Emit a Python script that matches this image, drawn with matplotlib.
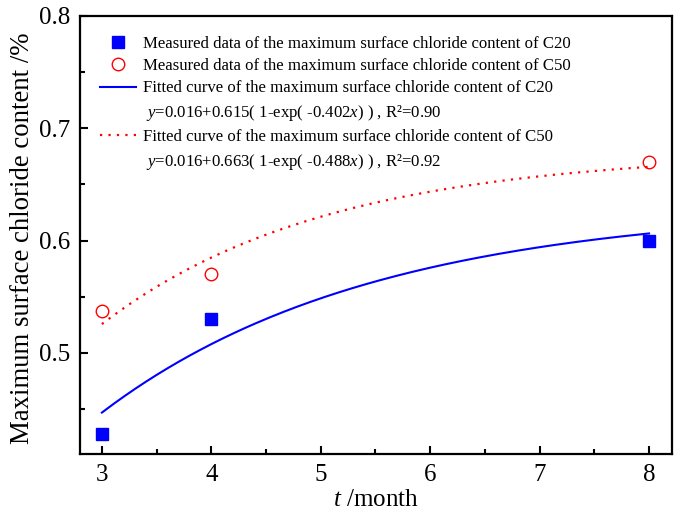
import numpy as np
import matplotlib
matplotlib.use('Agg')
import matplotlib.pyplot as plt
from matplotlib.ticker import MultipleLocator

plt.rcParams['font.family'] = ['Liberation Serif', 'DejaVu Serif']
plt.rcParams['mathtext.fontset'] = 'custom'
plt.rcParams['mathtext.rm'] = 'Liberation Serif'
plt.rcParams['mathtext.it'] = 'Liberation Serif:italic'

# measured surface chloride content (%)
months = [3, 4, 8]
c20_measured = [0.428, 0.530, 0.600]
c50_measured = [0.537, 0.570, 0.670]

# fit y = a + b(1 - exp(-k x))
c20_fit = (0.016, 0.615, 0.402, 0.90)
c50_fit = (0.016, 0.663, 0.488, 0.92)


def fitted(params, x):
    a, b, k, _ = params
    return a + b * (1 - np.exp(-k * x))


def eq_label(params):
    a, b, k, r2 = params
    return (f'$y$={a:.3f}+{b:.3f}( 1-exp( -{k:.3f}$x$) ) , R\u00b2={r2:.2f}')


fig = plt.figure(figsize=(6.81, 5.13), dpi=100)
ax = fig.add_axes([0.1175, 0.115, 0.8693, 0.854])

t = np.linspace(3, 8, 200)

ax.plot(months, c20_measured, 's', color='#0000ff', ms=8, ls='none',
        label='Measured data of the maximum surface chloride content of C20')
ax.plot(months, c50_measured, 'o', mfc='none', mec='#ff0000', mew=1.0, ms=9, ls='none',
        label='Measured data of the maximum surface chloride content of C50')
ax.plot(t, fitted(c20_fit, t), color='#0000ff', lw=1.5,
        label='Fitted curve of the maximum surface chloride content of C20')
ax.plot([], [], ls='none', label=' ' + eq_label(c20_fit))
ax.plot(t, fitted(c50_fit, t), color='#ff0000', lw=1.6, ls=(0, (1, 2.8)),
        label='Fitted curve of the maximum surface chloride content of C50')
ax.plot([], [], ls='none', label=' ' + eq_label(c50_fit))

ax.set_xlim(2.8, 8.21)
ax.set_ylim(0.41, 0.8)
ax.xaxis.set_major_locator(MultipleLocator(1))
ax.xaxis.set_minor_locator(MultipleLocator(0.5))
ax.yaxis.set_major_locator(MultipleLocator(0.1))
ax.yaxis.set_minor_locator(MultipleLocator(0.05))
ax.tick_params(which='both', direction='in', top=False, right=False,
               labelsize=18, width=1.5)
ax.tick_params(which='major', length=6, pad=7)
ax.tick_params(which='minor', length=3.5)
for s in ax.spines.values():
    s.set_linewidth(1.6)

ax.set_xlabel('$t$ /month', fontsize=18, labelpad=2)
ax.set_ylabel('Maximum surface chloride content /%', fontsize=19.3)
ax.yaxis.set_label_coords(-0.076, 0.492)

ax.legend(loc='upper left', frameon=False, fontsize=12.1, handlelength=2.15,
          handletextpad=0.4, labelspacing=0.38, borderpad=0, borderaxespad=0,
          bbox_to_anchor=(0.034, 0.955))

fig.savefig('out.png', dpi=100)
